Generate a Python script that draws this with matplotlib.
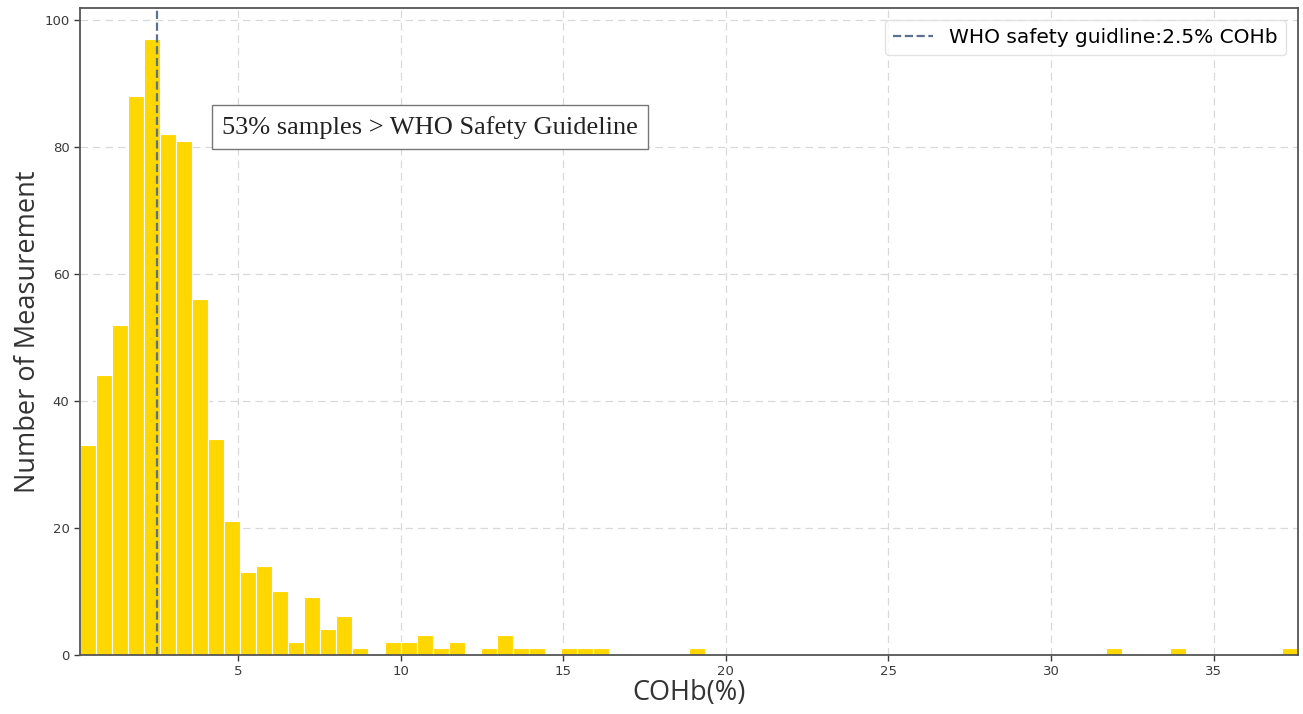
import matplotlib
matplotlib.use("Agg")
import matplotlib.pyplot as plt
import numpy as np

# histogram of COHb measurements, 76 equal bins
bin_lo = 0.13
bin_hi = 37.6
counts = [33, 44, 52, 88, 97, 82, 81, 56, 34, 21,
          13, 14, 10, 2, 9, 4, 6, 1, 0, 2,
          2, 3, 1, 2, 0, 1, 3, 1, 1, 0,
          1, 1, 1, 0, 0, 0, 0, 0, 1, 0,
          0, 0, 0, 0, 0, 0, 0, 0, 0, 0,
          0, 0, 0, 0, 0, 0, 0, 0, 0, 0,
          0, 0, 0, 0, 1, 0, 0, 0, 1, 0,
          0, 0, 0, 0, 0, 1]
who_limit = 2.5
legend_label = "WHO safety guidline:2.5% COHb"
note = "53% samples > WHO Safety Guideline"
xticks = [5, 10, 15, 20, 25, 30, 35]
yticks = [0, 20, 40, 60, 80, 100]

edges = np.linspace(bin_lo, bin_hi, len(counts) + 1)
centers = (edges[:-1] + edges[1:]) / 2

fig = plt.figure(figsize=(13.03, 7.14), dpi=100)
ax = fig.add_axes([0.0614, 0.0833, 0.9348, 0.9051])

ax.hist(centers, bins=edges, weights=counts, color='#FFD700',
        edgecolor='white', linewidth=0.8)
ax.axvline(who_limit, color='#5b7190', linestyle='--', linewidth=1.6,
           label=legend_label)

ax.set_xlim(edges[0], edges[-1])
ax.set_xticks(xticks)
ax.set_yticks(yticks)
ax.set_axisbelow(True)
ax.grid(True, linestyle=(0, (6, 4)), color='#d9d9d9', linewidth=0.9)

for s in ax.spines.values():
    s.set_color('#555555')
    s.set_linewidth(1.3)
ax.tick_params(labelsize=9.5, colors='#3a3a3a', length=4, width=1)

ax.set_xlabel('COHb(%)', fontsize=19.5, family='Open Sans', color='#333333')
ax.set_ylabel('Number of Measurement', fontsize=19.5, family='Open Sans',
              color='#333333')
ax.xaxis.set_label_coords(0.5, -0.038)
ax.yaxis.set_label_coords(-0.031, 0.5)

ax.text(4.5, 83.1, note, fontsize=19, family='Liberation Serif',
        va='center', ha='left', color='#222222',
        bbox=dict(boxstyle='square,pad=0.4', facecolor='white',
                  edgecolor='#777777', linewidth=1))

ax.legend(loc='upper right', fontsize=14.5, frameon=True, fancybox=True,
          edgecolor='#dddddd', handlelength=2.0, borderaxespad=0.6)

fig.savefig('out.png', dpi=100)
